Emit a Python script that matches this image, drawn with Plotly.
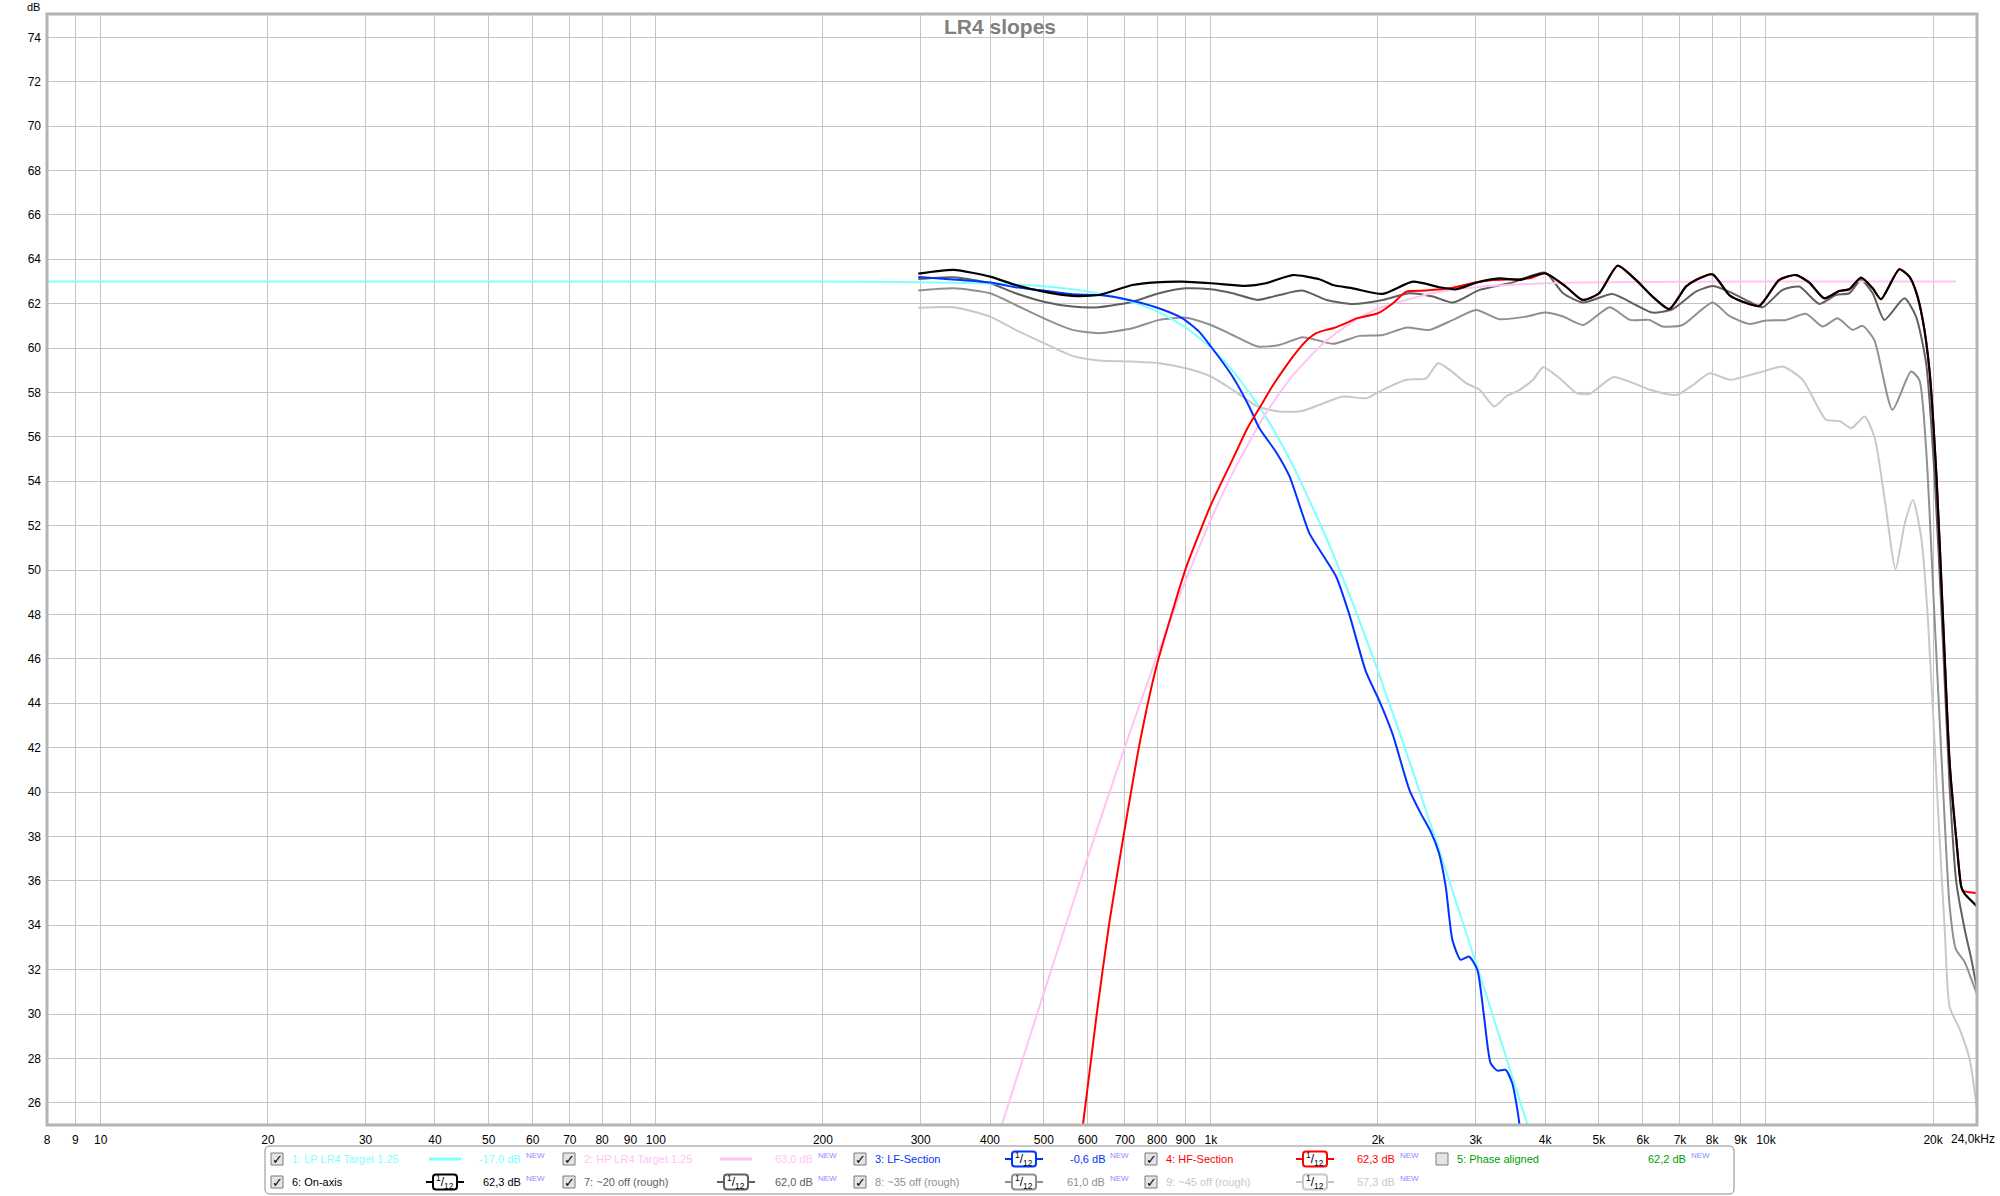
import math
import plotly.graph_objects as go

# ---------------- data ----------------
lp_target_freq = [8, 20, 50, 100, 200, 300, 400, 500, 600, 700, 800, 900, 1000, 1100, 1250,
                  1400, 1600, 1800, 2000, 2300, 2600, 3000, 3400, 3800]
lp_target_db = [63.0, 63.0, 63.0, 63.0, 63.0, 62.97, 62.91, 62.78, 62.55, 62.19, 61.65, 60.93,
                60.02, 58.92, 56.98, 54.79, 51.67, 48.52, 45.44, 41.09, 37.10, 32.33, 28.08, 24.27]

hp_target_freq = [400, 450, 500, 600, 700, 800, 900, 1000, 1100, 1250, 1400, 1600, 1800, 2000,
                  2500, 3000, 4000, 5000, 10000, 22000]
hp_target_db = [23.32, 27.36, 30.95, 37.05, 42.04, 46.15, 49.52, 52.27, 54.48, 56.98, 58.73,
                60.25, 61.18, 61.77, 62.47, 62.74, 62.92, 62.97, 63.0, 63.0]

lf_freq = [297, 400, 445, 500, 563, 629, 712, 796, 889, 952, 1000, 1094, 1172, 1222, 1311, 1385,
           1505, 1591, 1681, 1776, 1903, 2011, 2125, 2278, 2387, 2489, 2576, 2649, 2723, 2818,
           2917, 3020, 3105, 3192, 3282, 3396, 3491, 3566, 3620]
lf_db = [63.2, 62.95, 62.74, 62.59, 62.42, 62.39, 62.17, 61.84, 61.34, 60.74, 60.07, 58.72, 57.37,
         56.4, 55.31, 54.23, 51.65, 50.68, 49.71, 47.99, 45.41, 44.11, 42.61, 40.1, 39.05, 38.22,
         37.24, 35.74, 33.34, 32.44, 32.59, 31.99, 29.89, 27.78, 27.45, 27.48, 26.88, 25.68, 24.5]

hf_freq = [575, 588, 622, 657, 699, 744, 797, 854, 903, 1000, 1095, 1164, 1223, 1292, 1404, 1445,
           1504, 1548, 1612, 1660, 1776, 1828, 2000, 2128, 2249, 2443, 2693, 3000, 3223, 3502,
           3753, 4000, 4359, 4673, 5006, 5403, 5830, 6246, 6694, 7175, 7478, 8014, 8588, 9077,
           9727, 10567, 11325, 11970, 12737, 13551, 14130, 14834, 15572, 16118, 17386, 18130,
           18637, 19162, 19703, 20285, 20848, 21425, 22021, 22480, 22650, 24000]
hf_db = [23.5, 25.0, 29.9, 34.21, 38.3, 42.18, 45.62, 48.2, 50.14, 52.94, 55.0, 56.4, 57.3, 58.3,
         59.6, 60.0, 60.45, 60.67, 60.82, 60.89, 61.19, 61.34, 61.57, 62.02, 62.54, 62.59, 62.69,
         62.96, 63.07, 63.1, 63.14, 63.37, 62.77, 62.17, 62.47, 63.71, 63.07, 62.32, 61.76, 62.77,
         63.07, 63.32, 62.39, 62.09, 61.9, 63.07, 63.29, 62.95, 62.24, 62.57, 62.65, 63.17, 62.69,
         62.2, 63.55, 63.22, 62.54, 61.27, 59.02, 54.24, 47.78, 41.33, 37.89, 35.74, 35.55, 35.44]

on_axis_freq = [297, 344, 400, 445, 500, 563, 629, 722, 796, 889, 1000, 1156, 1256, 1404, 1568,
                1660, 1802, 2041, 2312, 2582, 2766, 3006, 3311, 3598, 4000, 4359, 4673, 5006,
                5403, 5830, 6246, 6694, 7175, 7478, 8014, 8588, 9077, 9727, 10567, 11325, 11970,
                12737, 13551, 14130, 14834, 15572, 16118, 17386, 18130, 18637, 19162, 19703,
                20285, 20848, 21425, 22021, 22480, 22790, 24000]
on_axis_db = [63.35, 63.52, 63.22, 62.84, 62.54, 62.35, 62.39, 62.84, 62.96, 62.99, 62.92, 62.8,
              62.92, 63.29, 63.1, 62.84, 62.69, 62.44, 62.99, 62.74, 62.65, 62.95, 63.14, 63.07,
              63.37, 62.77, 62.17, 62.47, 63.71, 63.07, 62.32, 61.76, 62.77, 63.07, 63.32, 62.39,
              62.09, 61.9, 63.07, 63.29, 62.95, 62.24, 62.57, 62.65, 63.17, 62.69, 62.2, 63.55,
              63.22, 62.54, 61.27, 59.02, 54.24, 47.78, 41.33, 37.89, 35.74, 35.42, 34.85]

off20_freq = [297, 344, 400, 445, 500, 563, 629, 722, 807, 902, 1000, 1094, 1214, 1328, 1462,
              1615, 1802, 2041, 2281, 2512, 2729, 3048, 3502, 4000, 4311, 4686, 5290, 5830,
              6246, 6786, 7478, 8014, 8588, 9333, 9862, 10716, 11483, 12478, 13370, 14130,
              14834, 15572, 16342, 17759, 18637, 19433, 20130, 20840, 21420, 22020, 22800,
              23450, 24000]
off20_db = [63.11, 63.19, 62.92, 62.47, 62.09, 61.87, 61.84, 62.09, 62.47, 62.69, 62.65, 62.47,
            62.17, 62.39, 62.59, 62.17, 61.99, 62.17, 62.47, 62.32, 62.05, 62.62, 62.96, 63.4,
            62.47, 62.05, 62.44, 61.94, 61.6, 61.75, 62.54, 62.8, 62.54, 62.09, 61.84, 62.62,
            62.77, 61.99, 62.39, 62.47, 63.07, 62.47, 61.27, 62.24, 61.42, 59.32, 54.24, 46.71,
            40.26, 35.96, 33.82, 32.46, 31.1]

off35_freq = [297, 344, 400, 445, 500, 563, 629, 722, 807, 902, 1000, 1094, 1214, 1328, 1462,
              1548, 1660, 1853, 2041, 2249, 2476, 2729, 3006, 3311, 3697, 4000, 4311, 4686,
              5232, 5685, 6162, 6512, 7077, 8014, 8588, 9333, 10000, 10865, 11810, 12650,
              13460, 14320, 14930, 15670, 16900, 18250, 18890, 19450, 20130, 20840, 21420,
              21980, 22800, 23450, 24000]
off35_db = [62.59, 62.69, 62.47, 61.94, 61.34, 60.82, 60.67, 60.89, 61.27, 61.37, 61.04, 60.59,
            60.07, 60.14, 60.49, 60.37, 60.19, 60.55, 60.59, 60.92, 60.82, 61.27, 61.72, 61.3,
            61.42, 61.6, 61.42, 61.04, 61.84, 61.27, 61.27, 60.97, 61.04, 62.05, 61.45, 61.09,
            61.24, 61.27, 61.54, 60.97, 61.34, 60.82, 61.0, 60.37, 57.22, 58.94, 58.57, 55.31,
            47.78, 40.26, 34.88, 32.92, 32.35, 31.56, 30.89]

off45_freq = [297, 344, 400, 445, 500, 563, 629, 722, 807, 902, 1000, 1094, 1214, 1328, 1462,
              1568, 1729, 1906, 2041, 2249, 2443, 2565, 2693, 2883, 3048, 3240, 3402, 3598,
              3805, 3967, 4251, 4556, 4815, 5304, 5767, 6180, 6900, 7391, 7918, 8612, 9357,
              9862, 10716, 11645, 12830, 13580, 14250, 15060, 15700, 16370, 17120, 17780,
              18400, 19050, 19580, 20420, 20990, 21430, 22340, 23280, 24000]
off45_db = [61.82, 61.84, 61.42, 60.82, 60.22, 59.65, 59.44, 59.39, 59.32, 59.09, 58.72, 58.12,
            57.37, 57.14, 57.17, 57.44, 57.82, 57.74, 58.12, 58.57, 58.64, 59.32, 59.02, 58.42,
            58.12, 57.37, 57.82, 58.12, 58.57, 59.14, 58.64, 57.97, 57.94, 58.69, 58.42, 58.12,
            57.89, 58.34, 58.87, 58.57, 58.79, 58.94, 59.17, 58.57, 56.77, 56.71, 56.39, 56.92,
            55.96, 53.16, 50.04, 52.09, 53.16, 51.44, 47.78, 39.18, 33.8, 30.3, 29.31, 27.96, 25.7]

x_tickvals = [8, 9, 10, 20, 30, 40, 50, 60, 70, 80, 90, 100, 200, 300, 400, 500, 600, 700, 800,
              900, 1000, 2000, 3000, 4000, 5000, 6000, 7000, 8000, 9000, 10000, 20000]
x_ticktext = ["8", "9", "10", "20", "30", "40", "50", "60", "70", "80", "90", "100", "200",
              "300", "400", "500", "600", "700", "800", "900", "1k", "2k", "3k", "4k", "5k",
              "6k", "7k", "8k", "9k", "10k", "20k"]
decades = [10, 100, 1000, 10000]
y_tickvals = list(range(26, 76, 2))

leg_names = ["1: LP LR4 Target 1.25", "2: HP LR4 Target 1.25", "3: LF-Section", "4: HF-Section",
             "5: Phase aligned", "6: On-axis", "7: ~20 off (rough)", "8: ~35 off (rough)",
             "9: ~45 off (rough)"]
leg_values = ["-17,0 dB", "63,0 dB", "-0,6 dB", "62,3 dB", "62,2 dB", "62,3 dB", "62,0 dB",
              "61,0 dB", "57,3 dB"]
leg_colors = ["#80ffff", "#ffc4f4", "#0033ff", "#ff0000", "#00a000", "#000000", "#606060",
              "#909090", "#c8c8c8"]
leg_symbols = ["line", "line", "box", "box", None, "box", "box", "box", "box"]
leg_checked = [True, True, True, True, False, True, True, True, True]

# ---------------- figure ----------------
FONT = "Liberation Sans, Arial, sans-serif"
X0, X1, Y0, Y1 = 47, 1977, 14, 1125
W, H = X1 - X0, Y1 - Y0


def pxx(x):
    return (x - X0) / W


def pxy(y):
    return (Y1 - y) / H


fig = go.Figure()

series = [
    ("9: ~45 off (rough)", off45_freq, off45_db, "#c8c8c8", 2),
    ("8: ~35 off (rough)", off35_freq, off35_db, "#909090", 2),
    ("7: ~20 off (rough)", off20_freq, off20_db, "#606060", 2),
    ("1: LP LR4 Target 1.25", lp_target_freq, lp_target_db, "#80ffff", 2),
    ("2: HP LR4 Target 1.25", hp_target_freq, hp_target_db, "#ffc4f4", 2),
    ("3: LF-Section", lf_freq, lf_db, "#0033ff", 2),
    ("4: HF-Section", hf_freq, hf_db, "#ff0000", 2),
    ("6: On-axis", on_axis_freq, on_axis_db, "#000000", 2.2),
]
for name, fx, fy, col, lw in series:
    fig.add_trace(go.Scatter(x=fx, y=fy, mode="lines", name=name,
                             line=dict(color=col, width=lw, shape="spline", smoothing=0.6),
                             showlegend=False, hoverinfo="x+y+name"))

shapes = []
# decade grid lines (darker)
for d in decades:
    shapes.append(dict(type="line", xref="x", yref="paper", x0=math.log10(d), x1=math.log10(d),
                       y0=0, y1=1, line=dict(color="#8c8c8c", width=1), layer="below"))
# plot frame
shapes.append(dict(type="rect", xref="paper", yref="paper", x0=0, x1=1, y0=0, y1=1,
                   line=dict(color="#b4b4b4", width=3), layer="above"))

annotations = []
annotations.append(dict(text="<b>LR4 slopes</b>", xref="paper", yref="paper", x=pxx(1000),
                        y=pxy(27), xanchor="center", yanchor="middle", showarrow=False,
                        font=dict(family=FONT, size=21, color="#808080")))
annotations.append(dict(text="dB", xref="paper", yref="paper", x=pxx(42), y=pxy(7),
                        xanchor="right", yanchor="middle", showarrow=False,
                        font=dict(family=FONT, size=11, color="#000000")))
annotations.append(dict(text="24,0kHz", xref="paper", yref="paper", x=pxx(1997), y=pxy(1139),
                        xanchor="right", yanchor="middle", showarrow=False,
                        font=dict(family=FONT, size=12, color="#000000")))

# ---------------- custom legend ----------------
LX0, LX1, LY0, LY1 = 265, 1734, 1146, 1194
r = 5
path = (f"M {pxx(LX0 + r)},{pxy(LY0)} L {pxx(LX1 - r)},{pxy(LY0)} "
        f"Q {pxx(LX1)},{pxy(LY0)} {pxx(LX1)},{pxy(LY0 + r)} L {pxx(LX1)},{pxy(LY1 - r)} "
        f"Q {pxx(LX1)},{pxy(LY1)} {pxx(LX1 - r)},{pxy(LY1)} L {pxx(LX0 + r)},{pxy(LY1)} "
        f"Q {pxx(LX0)},{pxy(LY1)} {pxx(LX0)},{pxy(LY1 - r)} L {pxx(LX0)},{pxy(LY0 + r)} "
        f"Q {pxx(LX0)},{pxy(LY0)} {pxx(LX0 + r)},{pxy(LY0)} Z")
shapes.append(dict(type="path", xref="paper", yref="paper", path=path,
                   line=dict(color="#8c8c8c", width=1), fillcolor="white", layer="above"))

col_check = [277, 569, 860, 1151, 1442]
col_symbol = [445, 736, 1024, 1315, None]
col_value_end = [523, 815, 1107, 1397, 1688]
row_y = [1159, 1182]
slots = [(0, 0), (0, 1), (0, 2), (0, 3), (0, 4), (1, 0), (1, 1), (1, 2), (1, 3)]

for i, (row, col) in enumerate(slots):
    cy = row_y[row]
    cx = col_check[col]
    color = leg_colors[i]
    # checkbox
    shapes.append(dict(type="rect", xref="paper", yref="paper",
                       x0=pxx(cx - 6), x1=pxx(cx + 6), y0=pxy(cy + 6), y1=pxy(cy - 6),
                       line=dict(color="#7a7a7a", width=1), fillcolor="#e4e4e4", layer="above"))
    if leg_checked[i]:
        annotations.append(dict(text="<b>✓</b>", xref="paper", yref="paper", x=pxx(cx + 0.5),
                                y=pxy(cy), xanchor="center", yanchor="middle", showarrow=False,
                                font=dict(family="DejaVu Sans", size=13, color="#000000")))
    # name
    annotations.append(dict(text=leg_names[i], xref="paper", yref="paper", x=pxx(cx + 13),
                            y=pxy(cy), xanchor="left", yanchor="middle", showarrow=False,
                            font=dict(family=FONT, size=11, color=color)))
    # symbol
    sym = leg_symbols[i]
    sx = col_symbol[col]
    if sym == "line":
        shapes.append(dict(type="line", xref="paper", yref="paper", x0=pxx(sx - 16),
                           x1=pxx(sx + 16), y0=pxy(cy), y1=pxy(cy),
                           line=dict(color=color, width=3), layer="above"))
    elif sym == "box":
        shapes.append(dict(type="line", xref="paper", yref="paper", x0=pxx(sx - 19),
                           x1=pxx(sx + 19), y0=pxy(cy), y1=pxy(cy),
                           line=dict(color=color, width=2), layer="above"))
        bx0, bx1, by0, by1, rr = sx - 12, sx + 12, cy - 7.5, cy + 7.5, 3
        bpath = (f"M {pxx(bx0 + rr)},{pxy(by0)} L {pxx(bx1 - rr)},{pxy(by0)} "
                 f"Q {pxx(bx1)},{pxy(by0)} {pxx(bx1)},{pxy(by0 + rr)} L {pxx(bx1)},{pxy(by1 - rr)} "
                 f"Q {pxx(bx1)},{pxy(by1)} {pxx(bx1 - rr)},{pxy(by1)} L {pxx(bx0 + rr)},{pxy(by1)} "
                 f"Q {pxx(bx0)},{pxy(by1)} {pxx(bx0)},{pxy(by1 - rr)} L {pxx(bx0)},{pxy(by0 + rr)} "
                 f"Q {pxx(bx0)},{pxy(by0)} {pxx(bx0 + rr)},{pxy(by0)} Z")
        shapes.append(dict(type="path", xref="paper", yref="paper", path=bpath,
                           line=dict(color=color, width=2), fillcolor="white", layer="above"))
        annotations.append(dict(text="<sup>1</sup>/<sub>12</sub>", xref="paper", yref="paper",
                                x=pxx(sx), y=pxy(cy), xanchor="center", yanchor="middle",
                                showarrow=False,
                                font=dict(family=FONT, size=12, color="#000000")))
    # value + NEW
    annotations.append(dict(text=leg_values[i], xref="paper", yref="paper",
                            x=pxx(col_value_end[col]), y=pxy(cy), xanchor="right",
                            yanchor="middle", showarrow=False,
                            font=dict(family=FONT, size=11, color=color)))
    annotations.append(dict(text="NEW", xref="paper", yref="paper",
                            x=pxx(col_value_end[col] + 1), y=pxy(cy - 4), xanchor="left",
                            yanchor="middle", showarrow=False,
                            font=dict(family=FONT, size=8, color="#8a8aff")))

fig.update_layout(
    width=2000, height=1196, autosize=False,
    margin=dict(l=X0, r=2000 - X1, t=Y0, b=1196 - Y1, pad=0),
    paper_bgcolor="white", plot_bgcolor="white",
    font=dict(family=FONT, size=12, color="#000000"),
    shapes=shapes, annotations=annotations,
    xaxis=dict(type="log", range=[math.log10(8), math.log10(24000)],
               tickmode="array", tickvals=x_tickvals, ticktext=x_ticktext,
               showgrid=True, gridcolor="#c4c4c4", gridwidth=1, zeroline=False,
               showline=False, ticks="", ticklabelstandoff=6,
               tickfont=dict(family=FONT, size=12, color="#000000")),
    yaxis=dict(range=[25.0, 75.05], tickmode="array", tickvals=y_tickvals,
               showgrid=True, gridcolor="#c4c4c4", gridwidth=1, zeroline=False,
               showline=False, ticks="", ticklabelstandoff=5,
               tickfont=dict(family=FONT, size=12, color="#000000")),
    showlegend=False,
)

fig.write_html("out.html", config={"displayModeBar": False},
               post_script="document.body.style.margin='0px';")
